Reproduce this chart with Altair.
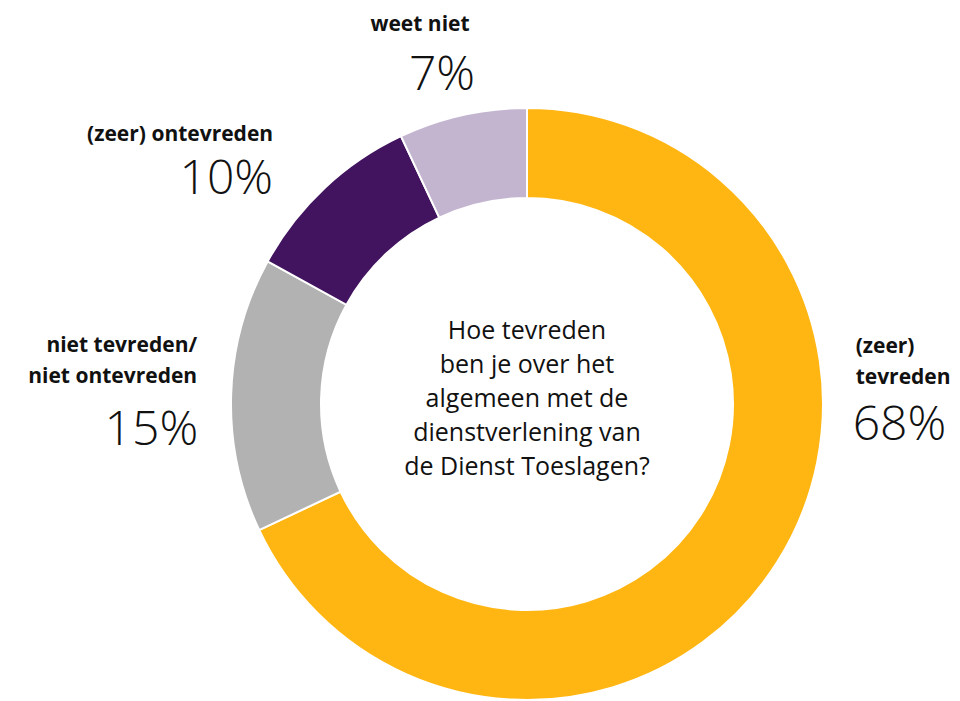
import math
import altair as alt
import pandas as pd

# ---- data ----
categories = ["(zeer) tevreden", "niet tevreden/ niet ontevreden", "(zeer) ontevreden", "weet niet"]
label_names = ["(zeer)\ntevreden", "niet tevreden/\nniet ontevreden", "(zeer) ontevreden", "weet niet"]
values = [68, 15, 10, 7]
pct_labels = ["68%", "15%", "10%", "7%"]
sort_order = [1, 2, 3, 4]
colors = ["#FFB612", "#B2B2B2", "#42145F", "#C3B5CF"]
question = "Hoe tevreden\nben je over het\nalgemeen met de\ndienstverlening van\nde Dienst Toeslagen?"

df = pd.DataFrame({
    "category": categories,
    "name": label_names,
    "value": values,
    "pct": pct_labels,
    "order": sort_order,
})

FONT = "Open Sans"
theta_scale = alt.Scale(domain=[0, 100], range=[0, 2 * math.pi])
color_scale = alt.Scale(domain=categories, range=colors)

base = alt.Chart(df)

arcs = base.mark_arc(outerRadius=296, innerRadius=206, stroke="white", strokeWidth=2).encode(
    theta=alt.Theta("value:Q", stack=True, scale=theta_scale),
    color=alt.Color("category:N", scale=color_scale, legend=None),
    order=alt.Order("order:Q"),
)

# label layout (style only): align, name dx/dy, pct dx/dy
layout = {
    "(zeer) tevreden": ("left", 50, -228, 47, -141),
    "niet tevreden/ niet ontevreden": ("right", 0, -42, 1, 51),
    "(zeer) ontevreden": ("right", -28, -22, -28, 31),
    "weet niet": ("center", -35, -51, -13, 8),
}

lab_base = base.transform_window(
    cum="sum(value)", sort=[alt.SortField("order")], frame=[None, 0]
).transform_calculate(mid="datum.cum - datum.value / 2")

layers = [arcs]
for cat in categories:
    align, ndx, ndy, pdx, pdy = layout[cat]
    sub = lab_base.transform_filter(alt.datum.category == cat)
    layers.append(
        sub.mark_text(radius=330, align=align, baseline="alphabetic", dx=ndx, dy=ndy,
                      font=FONT, fontSize=21, fontWeight="bold", lineBreak="\n",
                      lineHeight=31, color="#111111").encode(
            theta=alt.Theta("mid:Q", scale=theta_scale),
            text="name:N",
        )
    )
    layers.append(
        sub.mark_text(radius=330, align=align, baseline="alphabetic", dx=pdx, dy=pdy,
                      font=FONT, fontSize=48, fontWeight=300, color="#111111").encode(
            theta=alt.Theta("mid:Q", scale=theta_scale),
            text="pct:N",
        )
    )

center_text = alt.Chart(pd.DataFrame({"q": [question]})).mark_text(
    align="center", baseline="middle", font=FONT, fontSize=25, lineBreak="\n",
    lineHeight=34, color="#111111", dy=-73,
).encode(text="q:N")
layers.append(center_text)

chart = alt.layer(*layers).properties(
    width=864, height=594,
    padding={"left": 95, "top": 107, "right": 1, "bottom": 0},
    autosize=alt.AutoSizeParams(type="none"),
).configure_view(stroke=None)

chart.save("out.html", embed_options={"renderer": "svg", "actions": False})
